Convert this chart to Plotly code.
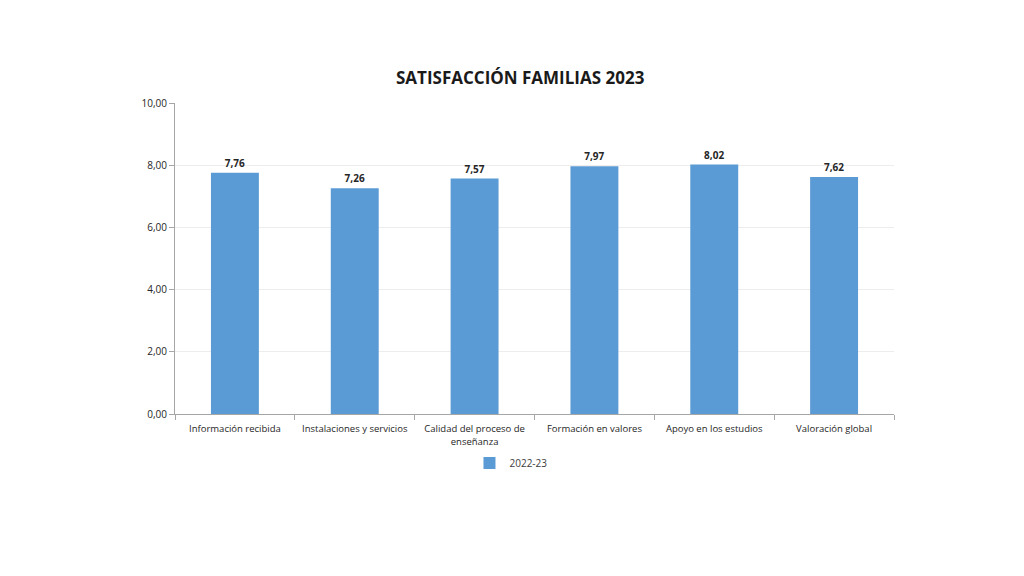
import plotly.graph_objects as go

categories = ["Información recibida", "Instalaciones y servicios", "Calidad del proceso de<br>enseñanza",
              "Formación en valores", "Apoyo en los estudios", "Valoración global"]
values_2022_23 = [7.76, 7.26, 7.57, 7.97, 8.02, 7.62]
series_name = "2022-23"
y_ticks = [0, 2, 4, 6, 8, 10]

fig = go.Figure()
fig.add_trace(go.Bar(
    x=categories, y=values_2022_23, name=series_name,
    marker=dict(color="#5B9BD5", line=dict(width=0)),
    texttemplate="<b>%{y:.2f}</b>", textposition="outside",
    textfont=dict(size=10, color="#262626", family="Open Sans"),
    cliponaxis=False,
))
fig.update_layout(
    width=1024, height=576,
    margin=dict(l=175, r=130, t=103, b=162, autoexpand=False),
    paper_bgcolor="white", plot_bgcolor="white",
    separators=",.",
    bargap=0.6,
    showlegend=True,
    title=dict(text="<b>SATISFACCIÓN FAMILIAS 2023</b>", x=0.508, xanchor="center",
               y=1 - 78/576, yanchor="middle",
               font=dict(size=17, color="#1a1a1a", family="Open Sans")),
    legend=dict(orientation="h", x=0.499, xanchor="center", y=1 - 463/576, yanchor="middle",
                xref="container", yref="container",
                font=dict(size=10, color="#404040", family="Open Sans"),
                itemwidth=30),
    font=dict(family="Open Sans", size=10, color="#404040"),
)
fig.update_xaxes(
    showline=True, linecolor="#A6A6A6", linewidth=1,
    ticks="outside", tickson="boundaries", ticklen=5, tickcolor="#A6A6A6",
    tickangle=0, automargin=False, ticklabelstandoff=6,
    tickfont=dict(size=9.5, color="#262626"), showgrid=False,
)
fig.update_yaxes(
    range=[0, 10], tickvals=y_ticks, tickformat=".2f",
    showline=True, linecolor="#A6A6A6", linewidth=1,
    ticks="outside", ticklen=5, tickcolor="#A6A6A6", automargin=False,
    gridcolor="#EDEDED", gridwidth=1,
    tickfont=dict(size=10, color="#262626"), zeroline=False,
)
fig.write_html("out.html")
